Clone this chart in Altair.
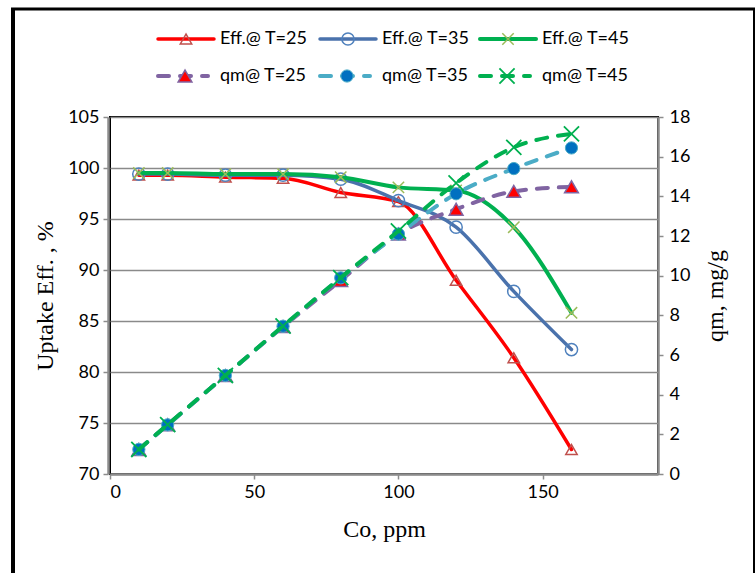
import altair as alt
import pandas as pd

# Initial concentration (ppm) and measured series
co_ppm = [10, 20, 40, 60, 80, 100, 120, 140, 160]

eff_t25 = [99.3, 99.3, 99.1, 99.0, 97.6, 96.7, 89.0, 81.4, 72.4]
eff_t35 = [99.4, 99.4, 99.3, 99.3, 98.9, 96.8, 94.2, 87.9, 82.2]
eff_t45 = [99.5, 99.5, 99.4, 99.4, 99.1, 98.1, 97.8, 94.2, 85.8]

qm_t25 = [1.24, 2.48, 4.96, 7.43, 9.76, 12.10, 13.35, 14.25, 14.48]
qm_t35 = [1.24, 2.48, 4.97, 7.45, 9.89, 12.10, 14.13, 15.40, 16.44]
qm_t45 = [1.24, 2.49, 4.97, 7.46, 9.90, 12.25, 14.67, 16.47, 17.15]

series_labels = ["Eff.@ T=25", "Eff.@ T=35", "Eff.@ T=45",
                 "qm@ T=25", "qm@ T=35", "qm@ T=45"]

x_ticks = [0, 50, 100, 150]
left_ticks = [70, 75, 80, 85, 90, 95, 100, 105]
right_ticks = [0, 2, 4, 6, 8, 10, 12, 14, 16, 18]

W, H = 548, 357
LABEL_FONT = "Lato"
TITLE_FONT = "Liberation Serif"
AXIS_GRAY = "#8c8c8c"
X_PATH = "M-1,-1L1,1M-1,1L1,-1"


def frame(values):
    return pd.DataFrame({"co": co_ppm, "v": values})


x_enc = alt.X(
    "co:Q",
    scale=alt.Scale(domain=[0, 190], nice=False, zero=False),
    axis=alt.Axis(
        values=x_ticks, title="Co, ppm", grid=False,
        domainColor=AXIS_GRAY, domainWidth=2.5,
        tickColor=AXIS_GRAY, tickSize=5, tickWidth=1.5,
        labelFont=LABEL_FONT, labelFontSize=18, labelColor="black", labelPadding=4,
        titleFont=TITLE_FONT, titleFontSize=24, titleFontWeight="normal",
        titleColor="black", titlePadding=16,
    ),
)

y_left = alt.Y(
    "v:Q",
    scale=alt.Scale(domain=[70, 105], nice=False, zero=False),
    axis=alt.Axis(
        orient="left", values=left_ticks, title="Uptake Eff. , %",
        grid=True, gridColor="#8a8a8a", gridWidth=1.5,
        domainColor=AXIS_GRAY, domainWidth=2.5, offset=2,
        tickColor=AXIS_GRAY, tickSize=5, tickWidth=1.5,
        labelFont=LABEL_FONT, labelFontSize=18, labelColor="black", labelPadding=4,
        titleFont=TITLE_FONT, titleFontSize=24, titleFontWeight="normal",
        titleColor="black", titlePadding=10,
    ),
)

y_right = alt.Y(
    "v:Q",
    scale=alt.Scale(domain=[0, 18], nice=False, zero=False),
    axis=alt.Axis(
        orient="right", values=right_ticks, title="qm, mg/g", grid=False,
        domainColor=AXIS_GRAY, domainWidth=2.5,
        tickColor=AXIS_GRAY, tickSize=5, tickWidth=1.5,
        labelFont=LABEL_FONT, labelFontSize=18, labelColor="black", labelPadding=6,
        titleFont=TITLE_FONT, titleFontSize=24, titleFontWeight="normal",
        titleColor="black", titlePadding=14, titleAngle=270, titleBaseline="top",
    ),
)

# Line and marker styling for each series
styles = {
    "Eff.@ T=25": dict(line=dict(color="#ff0000", strokeWidth=3.5),
                       marker=dict(shape="triangle-up", size=130, filled=False,
                                   stroke="#c0504d", strokeWidth=1.5)),
    "Eff.@ T=35": dict(line=dict(color="#4a72ac", strokeWidth=3.5),
                       marker=dict(shape="circle", size=150, filled=False,
                                   stroke="#4f81bd", strokeWidth=1.5)),
    "Eff.@ T=45": dict(line=dict(color="#00b050", strokeWidth=4),
                       marker=dict(shape=X_PATH, size=130, filled=False,
                                   stroke="#9bbb59", strokeWidth=1.5)),
    "qm@ T=25": dict(line=dict(color="#8064a2", strokeWidth=4, strokeDash=[11, 11]),
                     marker=dict(shape="triangle-up", size=190, filled=True,
                                 fill="#ff0000", stroke="#8064a2", strokeWidth=1.5)),
    "qm@ T=35": dict(line=dict(color="#4bacc6", strokeWidth=4, strokeDash=[11, 11]),
                     marker=dict(shape="circle", size=150, filled=True,
                                 fill="#0070c0", stroke="#4bacc6", strokeWidth=1)),
    "qm@ T=45": dict(line=dict(color="#00b050", strokeWidth=4, strokeDash=[11, 11]),
                     marker=dict(shape=X_PATH, size=230, filled=False,
                                 stroke="#00b050", strokeWidth=1.8)),
}


def series_layer(values, label, y_enc):
    st = styles[label]
    base = alt.Chart(frame(values)).encode(x=x_enc, y=y_enc)
    line = base.mark_line(interpolate="monotone", strokeCap="round", **st["line"])
    pts = base.mark_point(opacity=1, **st["marker"])
    return line + pts


left = alt.layer(
    series_layer(eff_t25, series_labels[0], y_left),
    series_layer(eff_t35, series_labels[1], y_left),
    series_layer(eff_t45, series_labels[2], y_left),
)
right = alt.layer(
    series_layer(qm_t25, series_labels[3], y_right),
    series_layer(qm_t35, series_labels[4], y_right),
    series_layer(qm_t45, series_labels[5], y_right),
)

# Legend drawn above the plot area: two rows of three entries
one_row = alt.Data(values=[{}])
row_y = [-78, -41]
col_x = [48, 210, 370]
legend_layers = []
for i, label in enumerate(series_labels):
    r, c = divmod(i, 3)
    st = styles[label]
    x0 = col_x[c]
    line_props = {k: v for k, v in st["line"].items()}
    line_props["strokeCap"] = "round"
    legend_layers.append(
        alt.Chart(one_row).mark_rule(**line_props).encode(
            x=alt.value(x0), x2=alt.value(x0 + (56 if r == 0 else 50)), y=alt.value(row_y[r])
        )
    )
    legend_layers.append(
        alt.Chart(one_row).mark_point(opacity=1, **st["marker"]).encode(
            x=alt.value(x0 + (28 if r == 0 else 27)), y=alt.value(row_y[r])
        )
    )
    legend_layers.append(
        alt.Chart(one_row).mark_text(
            align="left", baseline="middle", font=LABEL_FONT, fontSize=18, color="black"
        ).encode(x=alt.value(x0 + 62), y=alt.value(row_y[r]), text=alt.value(label))
    )

# Outer frame around the figure
frame_layers = [
    alt.Chart(one_row).mark_rule(color="black", strokeWidth=4).encode(
        x=alt.value(-97), y=alt.value(-108), y2=alt.value(470)),
    alt.Chart(one_row).mark_rule(color="black", strokeWidth=3).encode(
        x=alt.value(-99), x2=alt.value(645), y=alt.value(-108)),
    alt.Chart(one_row).mark_rule(color="black", strokeWidth=2).encode(
        x=alt.value(644), y=alt.value(-108), y2=alt.value(470)),
]

chart = (
    alt.layer(left, right, *legend_layers, *frame_layers)
    .resolve_scale(y="independent")
    .properties(
        width=W, height=H,
        autosize=alt.AutoSizeParams(type="none"),
        padding={"left": 110, "top": 117, "right": 98, "bottom": 99},
        background="white",
    )
    .configure_view(stroke="black", strokeWidth=2)
)

chart.save("out.html", embed_options={"renderer": "svg", "actions": False})
